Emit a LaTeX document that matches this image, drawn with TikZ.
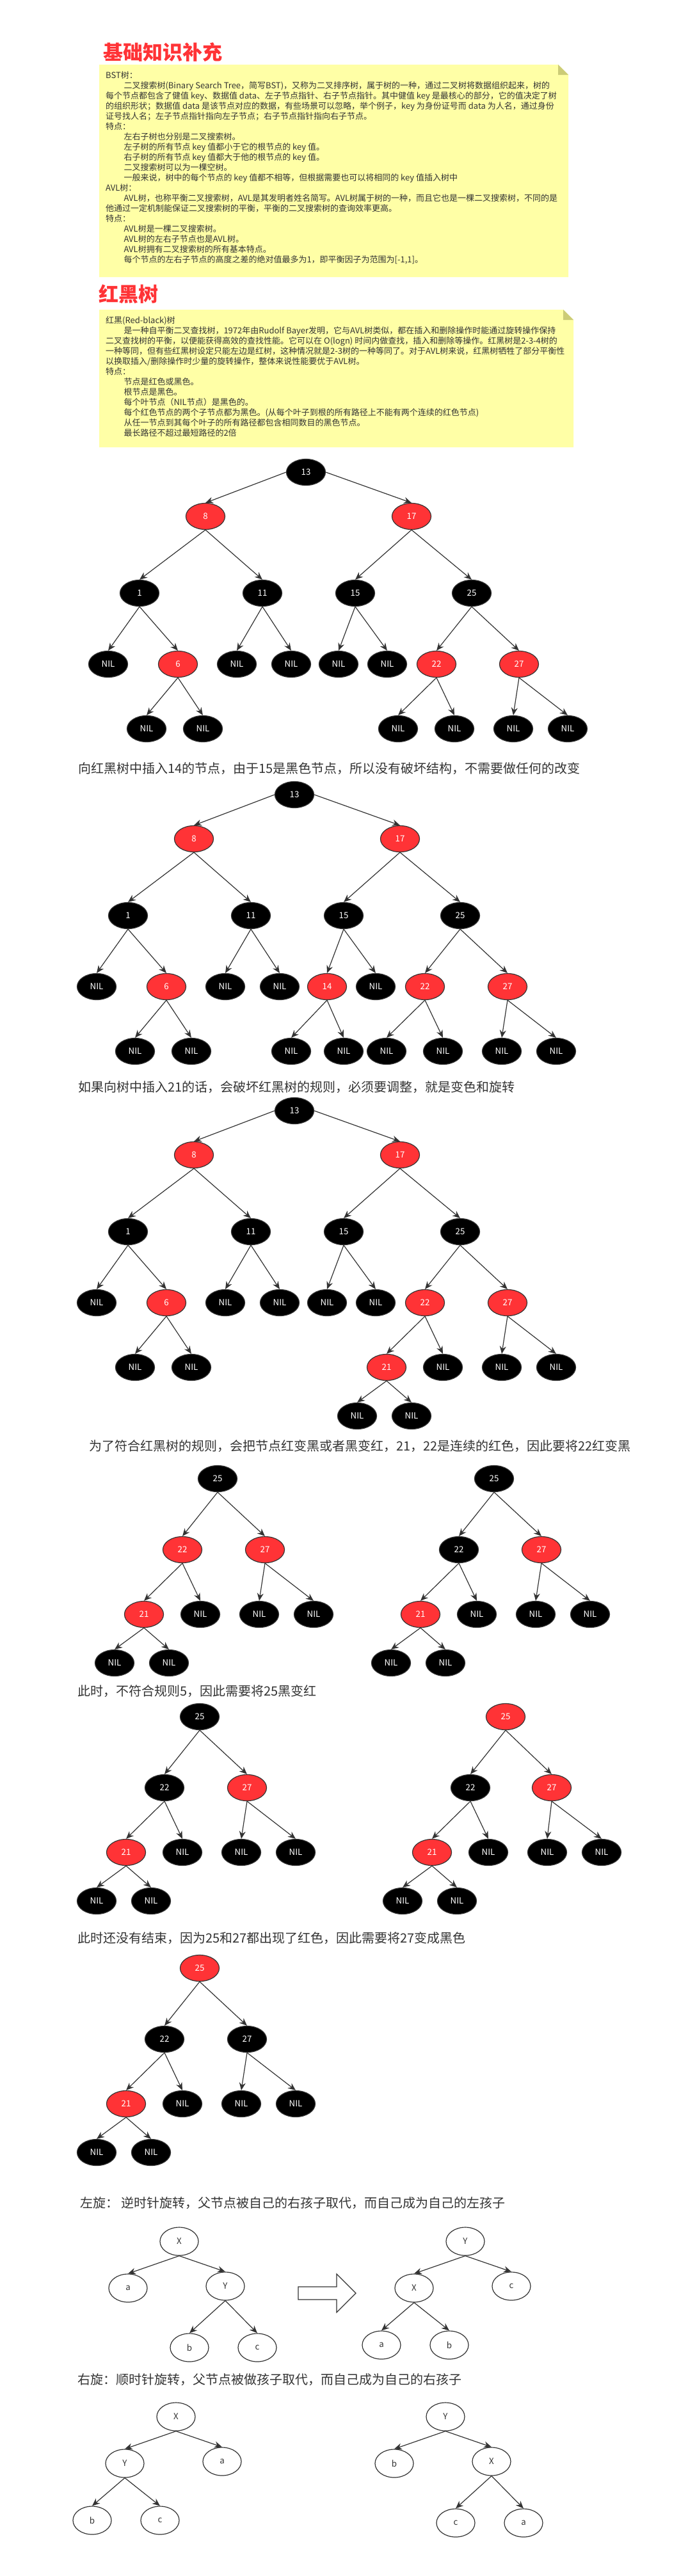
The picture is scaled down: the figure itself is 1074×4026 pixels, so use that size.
\documentclass[tikz,border=0pt]{standalone}
\usepackage{fontspec}
\setmainfont{Noto Sans CJK SC}
\usetikzlibrary{arrows.meta, shapes.geometric}
\definecolor{nodered}{RGB}{255, 51, 54}
\definecolor{linegray}{RGB}{51, 51, 51}
\definecolor{notefill}{RGB}{255, 255, 166}
\definecolor{notefold}{RGB}{204, 204, 119}
\newcommand{\ind}{\hspace*{28.3pt}}
\tikzset{
    heading/.style={anchor=west, inner sep=0, text=nodered, font=\fontsize{31}{36}\selectfont\bfseries},
    notetext/.style={anchor=north west, inner sep=0, align=left, text=linegray, font=\fontsize{13}{16}\selectfont},
    caption/.style={anchor=west, inner sep=0, text=linegray, font=\fontsize{20}{24}\selectfont},
    treenode/.style={ellipse, minimum width=61pt, minimum height=41pt, inner sep=0,
        draw=linegray, line width=1.2pt, text=white, font=\fontsize{13.3}{16}\selectfont},
    blacknode/.style={treenode, fill=black},
    rednode/.style={treenode, fill=nodered},
    whitenode/.style={ellipse, minimum width=60pt, minimum height=44pt, inner sep=0,
        draw=linegray, line width=1.2pt, text=linegray, font=\fontsize{13.3}{16}\selectfont},
    link/.style={draw=linegray, line width=1.2pt, -{Stealth[length=12pt, width=10pt]}},
    % the five upper levels of the full tree
    pics/fulltree/.style n args={4}{code={
        \node[blacknode] (-n13) at (0, 0) {13};
        \node[rednode] (-n8) at (-157, 69) {8};
        \node[rednode] (-n17) at (165, 69) {17};
        \node[blacknode] (-n1) at (-260, 189) {1};
        \node[blacknode] (-n11) at (-68, 189) {11};
        \node[blacknode] (-n15) at (77, 189) {15};
        \node[blacknode] (-n25) at (259, 189) {25};
        \node[blacknode] (-nila) at (-309, 300) {NIL};
        \node[rednode] (-n6) at (-200, 300) {6};
        \node[blacknode] (-nilb) at (-108, 300) {NIL};
        \node[blacknode] (-nilc) at (-23, 300) {NIL};
        \node[#1] (-slot) at (51, 300) {#2};
        \node[blacknode] (-nild) at (127, 300) {NIL};
        \node[rednode] (-n22) at (204, 300) {22};
        \node[rednode] (-n27) at (333, 300) {27};
        \node[blacknode] (-nile) at (-249, 401) {NIL};
        \node[blacknode] (-nilf) at (-161, 401) {NIL};
        \node[#3] (-hole) at (144, 401) {#4};
        \node[blacknode] (-nilg) at (232, 401) {NIL};
        \node[blacknode] (-nilh) at (324, 401) {NIL};
        \node[blacknode] (-nili) at (409, 401) {NIL};
        \draw[link] (-n13.west) -- (-n8.north);
        \draw[link] (-n13.east) -- (-n17.north);
        \draw[link] (-n8.south) -- (-n1.north);
        \draw[link] (-n8.south) -- (-n11.north);
        \draw[link] (-n17.south) -- (-n15.north);
        \draw[link] (-n17.south) -- (-n25.north);
        \draw[link] (-n1.south) -- (-nila.north);
        \draw[link] (-n1.south) -- (-n6.north);
        \draw[link] (-n11.south) -- (-nilb.north);
        \draw[link] (-n11.south) -- (-nilc.north);
        \draw[link] (-n15.south) -- (-slot.north);
        \draw[link] (-n15.south) -- (-nild.north);
        \draw[link] (-n25.south) -- (-n22.north);
        \draw[link] (-n25.south) -- (-n27.north);
        \draw[link] (-n6.south) -- (-nile.north);
        \draw[link] (-n6.south) -- (-nilf.north);
        \draw[link] (-n22.south) -- (-hole.north);
        \draw[link] (-n22.south) -- (-nilg.north);
        \draw[link] (-n27.south) -- (-nilh.north);
        \draw[link] (-n27.south) -- (-nili.north);
    }},
    % the subtree below 25
    pics/subtree/.style n args={5}{code={
        \node[#1] (-n25) at (0, 0) {25};
        \node[#2] (-n22) at (-55, 111) {22};
        \node[#3] (-n27) at (#5, 111) {27};
        \node[#4] (-n21) at (-115, 212) {21};
        \node[blacknode] (-nila) at (-27, 212) {NIL};
        \node[blacknode] (-nilb) at (65, 212) {NIL};
        \node[blacknode] (-nilc) at (150, 212) {NIL};
        \node[blacknode] (-nild) at (-161, 288) {NIL};
        \node[blacknode] (-nile) at (-76, 288) {NIL};
        \draw[link] (-n25.south) -- (-n22.north);
        \draw[link] (-n25.south) -- (-n27.north);
        \draw[link] (-n22.south) -- (-n21.north);
        \draw[link] (-n22.south) -- (-nila.north);
        \draw[link] (-n27.south) -- (-nilb.north);
        \draw[link] (-n27.south) -- (-nilc.north);
        \draw[link] (-n21.south) -- (-nild.north);
        \draw[link] (-n21.south) -- (-nile.north);
    }},
    % rotation trees, the inner pair hangs below the right or the left child
    pics/rightdeep/.style n args={5}{code={
        \node[whitenode] (-top) at (0, 0) {#1};
        \node[whitenode] (-lft) at (-80, 73) {#2};
        \node[whitenode] (-rgt) at (72, 70) {#3};
        \node[whitenode] (-kida) at (16, 166) {#4};
        \node[whitenode] (-kidb) at (122, 166) {#5};
        \draw[link] (-top.south) -- (-lft.north);
        \draw[link] (-top.south) -- (-rgt.north);
        \draw[link] (-rgt.south) -- (-kida.north);
        \draw[link] (-rgt.south) -- (-kidb.north);
    }},
    pics/leftdeep/.style n args={5}{code={
        \node[whitenode] (-top) at (0, 0) {#1};
        \node[whitenode] (-lft) at (-80, 73) {#2};
        \node[whitenode] (-rgt) at (72, 70) {#3};
        \node[whitenode] (-kida) at (-131, 162) {#4};
        \node[whitenode] (-kidb) at (-25, 162) {#5};
        \draw[link] (-top.south) -- (-lft.north);
        \draw[link] (-top.south) -- (-rgt.north);
        \draw[link] (-lft.south) -- (-kida.north);
        \draw[link] (-lft.south) -- (-kidb.north);
    }},
}

\begin{document}
\begin{tikzpicture}[x=1pt, y=-1pt]
    \useasboundingbox[fill=white] (0, 0) rectangle (1074, 4026);

    \node[heading] (titlebase) at (161, 82) {基础知识补充};
    \fill[notefill] (155, 101) -- (872, 101) -- (888, 117) -- (888, 433) -- (155, 433) -- cycle;
    \fill[notefold] (872, 101) -- (888, 117) -- (872, 117) -- cycle;
    \node[notetext] (notebase) at (165, 111) {%
        BST树：\\
        \ind 二叉搜索树(Binary Search Tree，简写BST)，又称为二叉排序树，属于树的一种，通过二叉树将数据组织起来，树的\\
        每个节点都包含了健值 key、数据值 data、左子节点指针、右子节点指针。其中健值 key 是最核心的部分，它的值决定了树\\
        的组织形状；数据值 data 是该节点对应的数据，有些场景可以忽略，举个例子，key 为身份证号而 data 为人名，通过身份\\
        证号找人名；左子节点指针指向左子节点；右子节点指针指向右子节点。\\
        特点：\\
        \ind 左右子树也分别是二叉搜索树。\\
        \ind 左子树的所有节点 key 值都小于它的根节点的 key 值。\\
        \ind 右子树的所有节点 key 值都大于他的根节点的 key 值。\\
        \ind 二叉搜索树可以为一棵空树。\\
        \ind 一般来说，树中的每个节点的 key 值都不相等，但根据需要也可以将相同的 key 值插入树中\\
        AVL树：\\
        \ind AVL树，也称平衡二叉搜索树，AVL是其发明者姓名简写。AVL树属于树的一种，而且它也是一棵二叉搜索树，不同的是\\
        他通过一定机制能保证二叉搜索树的平衡，平衡的二叉搜索树的查询效率更高。\\
        特点：\\
        \ind AVL树是一棵二叉搜索树。\\
        \ind AVL树的左右子节点也是AVL树。\\
        \ind AVL树拥有二叉搜索树的所有基本特点。\\
        \ind 每个节点的左右子节点的高度之差的绝对值最多为1，即平衡因子为范围为[-1,1]。};

    \node[heading] (titlerb) at (154, 460) {红黑树};
    \fill[notefill] (155, 484) -- (880, 484) -- (896, 500) -- (896, 699) -- (155, 699) -- cycle;
    \fill[notefold] (880, 484) -- (896, 500) -- (880, 500) -- cycle;
    \node[notetext] (noterb) at (165, 494) {%
        红黑(Red-black)树\\
        \ind 是一种自平衡二叉查找树，1972年由Rudolf Bayer发明，它与AVL树类似，都在插入和删除操作时能通过旋转操作保持\\
        二叉查找树的平衡，以便能获得高效的查找性能。它可以在 O(logn) 时间内做查找，插入和删除等操作。红黑树是2-3-4树的\\
        一种等同，但有些红黑树设定只能左边是红树，这种情况就是2-3树的一种等同了。对于AVL树来说，红黑树牺牲了部分平衡性\\
        以换取插入/删除操作时少量的旋转操作，整体来说性能要优于AVL树。\\
        特点：\\
        \ind 节点是红色或黑色。\\
        \ind 根节点是黑色。\\
        \ind 每个叶节点（NIL节点）是黑色的。\\
        \ind 每个红色节点的两个子节点都为黑色。(从每个叶子到根的所有路径上不能有两个连续的红色节点)\\
        \ind 从任一节点到其每个叶子的所有路径都包含相同数目的黑色节点。\\
        \ind 最长路径不超过最短路径的2倍};

    \pic (one) at (478, 738) {fulltree={blacknode}{NIL}{blacknode}{NIL}};
    \node[caption] (capone) at (122, 1201) {向红黑树中插入14的节点，由于15是黑色节点，所以没有破坏结构，不需要做任何的改变};

    \pic (two) at (460, 1242) {fulltree={rednode}{14}{blacknode}{NIL}};
    \node[blacknode] (twonilj) at (455, 1643) {NIL};
    \node[blacknode] (twonilk) at (537, 1643) {NIL};
    \draw[link] (two-slot.south) -- (twonilj.north);
    \draw[link] (two-slot.south) -- (twonilk.north);
    \node[caption] (captwo) at (122, 1699) {如果向树中插入21的话，会破坏红黑树的规则，必须要调整，就是变色和旋转};

    \pic (three) at (460, 1736) {fulltree={blacknode}{NIL}{rednode}{21}};
    \node[blacknode] (threenilj) at (558, 2213) {NIL};
    \node[blacknode] (threenilk) at (643, 2213) {NIL};
    \draw[link] (three-hole.south) -- (threenilj.north);
    \draw[link] (three-hole.south) -- (threenilk.north);
    \node[caption] (capthree) at (139, 2260) {为了符合红黑树的规则，会把节点红变黑或者黑变红，21，22是连续的红色，因此要将22红变黑};

    \pic (four) at (340, 2311) {subtree={blacknode}{rednode}{rednode}{rednode}{74}};
    \pic (five) at (772, 2311) {subtree={blacknode}{blacknode}{rednode}{rednode}{74}};
    \node[caption] (capfour) at (121, 2643) {此时，不符合规则5，因此需要将25黑变红};

    \pic (six) at (312, 2683) {subtree={blacknode}{blacknode}{rednode}{rednode}{74}};
    \pic (seven) at (790, 2683) {subtree={rednode}{blacknode}{rednode}{rednode}{72}};
    \node[caption] (capsix) at (121, 3029) {此时还没有结束，因为25和27都出现了红色，因此需要将27变成黑色};

    \pic (eight) at (312, 3076) {subtree={rednode}{blacknode}{blacknode}{rednode}{74}};

    \node[caption] (capleft) at (125, 3443) {左旋： 逆时针旋转，父节点被自己的右孩子取代，而自己成为自己的左孩子};
    \pic (lefta) at (280, 3503) {rightdeep={X}{a}{Y}{b}{c}};
    \draw[linegray, fill=white, line width=1.2pt] (466, 3574) -- (526, 3574) -- (526, 3554) -- (556, 3584)
        -- (526, 3614) -- (526, 3594) -- (466, 3594) -- cycle;
    \pic (leftb) at (727, 3503) {leftdeep={Y}{X}{c}{a}{b}};

    \node[caption] (capright) at (121, 3719) {右旋：顺时针旋转，父节点被做孩子取代，而自己成为自己的右孩子};
    \pic (righta) at (275, 3777) {leftdeep={X}{Y}{a}{b}{c}};
    \pic (rightb) at (696, 3777) {rightdeep={Y}{b}{X}{c}{a}};
\end{tikzpicture}
\end{document}
